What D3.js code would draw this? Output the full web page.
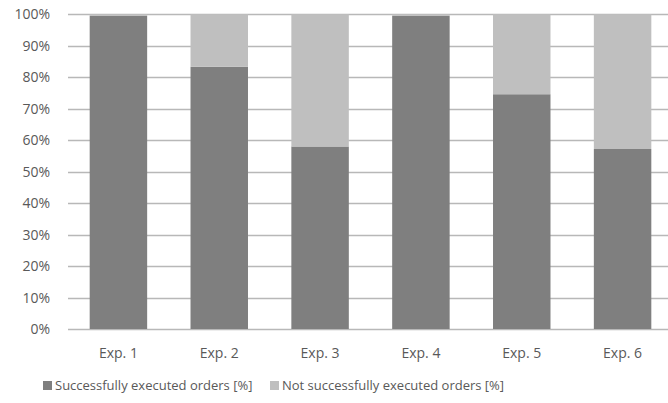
<!DOCTYPE html>
<html><head><meta charset="utf-8">
<script src="https://cdn.jsdelivr.net/npm/d3@7"></script>
<style>body{margin:0;background:#fff}svg{display:block}text{font-family:"Open Sans",sans-serif;fill:#595959}</style>
</head><body><svg id="c" width="668" height="403"></svg>
<script>
const categories = ["Exp. 1","Exp. 2","Exp. 3","Exp. 4","Exp. 5","Exp. 6"];
const successful = [99.5, 83.3, 58.0, 99.5, 74.6, 57.2];
const notSuccessful = successful.map(v => 100 - v);
const yTicks = [0,10,20,30,40,50,60,70,80,90,100];
const seriesNames = ["Successfully executed orders [%]","Not successfully executed orders [%]"];
const colors = ["#7f7f7f","#bfbfbf"];

const svg = d3.select("#c");
const x = d3.scaleBand().domain(categories).range([68, 673]).paddingInner(0.43).paddingOuter(0.215);
const y = d3.scaleLinear().domain([0,100]).range([329, 14.3]);

const data = categories.map((c,i)=>({cat:c, s:successful[i], n:notSuccessful[i]}));
const stack = d3.stack().keys(["s","n"])(data);

// grid
svg.append("g").selectAll("line").data(yTicks).join("line")
  .attr("x1",68).attr("x2",668).attr("y1",d=>Math.round(y(d))+0.5).attr("y2",d=>Math.round(y(d))+0.5)
  .attr("stroke","#b8b8b8").attr("stroke-width",1.3);

// y labels
const ya = d3.axisLeft(y).tickValues(yTicks).tickFormat(d=>d+"%").tickSize(0).tickPadding(0);
const yg = svg.append("g").attr("transform","translate(50,0)").call(ya);
yg.select(".domain").remove();
yg.attr("font-size",14).attr("font-family",null);
yg.selectAll("text").style("font-size","14px").attr("fill","#595959");

// bars
svg.append("g").selectAll("g").data(stack).join("g").attr("fill",(d,i)=>colors[i])
  .selectAll("rect").data(d=>d).join("rect")
  .attr("x",d=>x(d.data.cat)).attr("width",x.bandwidth())
  .attr("y",d=>y(d[1])).attr("height",d=>y(d[0])-y(d[1]));

// x labels
const xa = d3.axisBottom(x).tickSize(0).tickPadding(0);
const xg = svg.append("g").attr("transform","translate(0,348)").call(xa);
xg.select(".domain").remove();
xg.attr("font-size",14).attr("font-family",null);
xg.selectAll("text").style("font-size","14px").attr("fill","#595959");

// legend
const legX = [43, 270];
const lg = svg.append("g").selectAll("g").data(seriesNames).join("g")
  .attr("transform",(d,i)=>`translate(${legX[i]},381)`);
lg.append("rect").attr("width",9).attr("height",9).attr("fill",(d,i)=>colors[i]);
lg.append("text").attr("x",12).attr("y",9).style("font-size","13px").text(d=>d);
</script></body></html>
